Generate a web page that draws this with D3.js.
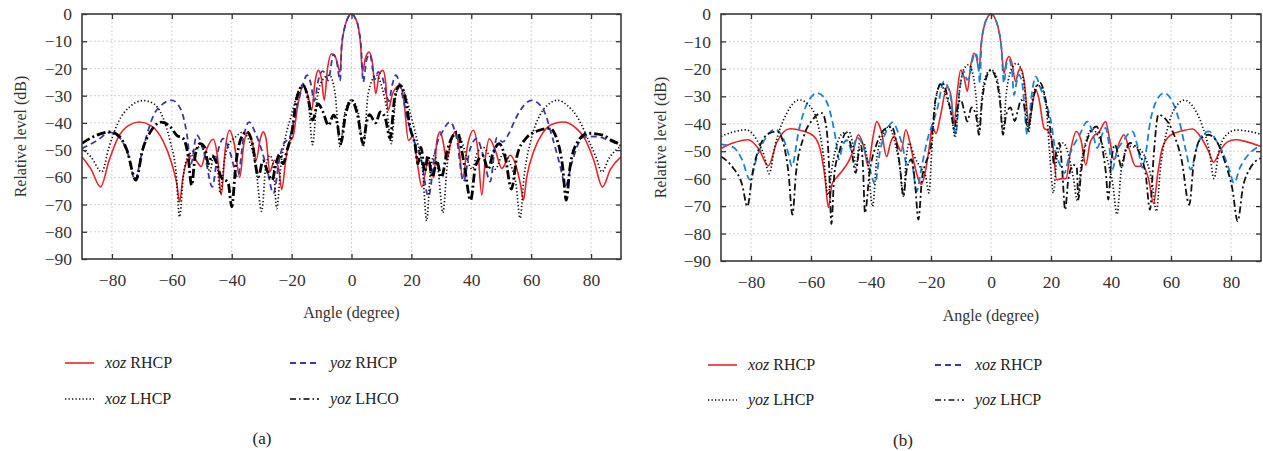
<!DOCTYPE html>
<html>
<head>
<meta charset="utf-8">
<script src="https://cdn.jsdelivr.net/npm/d3@7"></script>
<style>
    body { margin: 0; background: #fff; }
    svg text { font-family: "Liberation Serif", "DejaVu Serif", serif; }
</style>
</head>
<body>
<svg id="chart" width="1263" height="451"></svg>
<script>

// tick values shared by both panels
const xTicks = [-80, -60, -40, -20, 0, 20, 40, 60, 80];
const yTicks = [0, -10, -20, -30, -40, -50, -60, -70, -80, -90];

// ---- panel (a) : [angle (deg), level (dB)] ----
const aXozRhcp = [
    [-90,-52.5],[-87,-57],[-83.8,-63.5],[-81,-54],[-78,-45.5],[-74.5,-41],[-70.8,-39.7],[-67,-41],[-63,-46.5],
    [-60,-55],[-58.4,-62],[-57.4,-69],[-56.3,-60],[-54.5,-53],[-53,-52],[-51.5,-54.5],[-50.2,-56],[-48.5,-50],
    [-46.2,-46],[-44.8,-52],[-43.5,-66.5],[-42.2,-50],[-40.7,-42.7],[-39.2,-47.5],[-37.3,-60],[-36,-48],
    [-34.6,-43.3],[-33.2,-47],[-31.8,-53.5],[-30.5,-46],[-29.5,-43.3],[-28.5,-46],[-27.3,-58],[-25.7,-53.7],
    [-24.3,-57],[-23.3,-64.5],[-22,-54],[-21,-47.5],[-19.5,-45],[-18,-34],[-16.2,-26.5],[-14.5,-30],
    [-13.3,-35.4],[-12.2,-25],[-11.1,-20.7],[-10,-24],[-9.1,-31.7],[-8,-20],[-6.7,-14.6],[-5.3,-16],
    [-3.8,-21.3],[-3.3,-12],[-2.4,-5.5],[-1.3,-1.6],[0,0],[1.3,-1.6],[2.4,-5.5],[3.1,-12],[3.6,-21.3],[4.7,-16],
    [5.9,-14],[7,-18],[8.1,-29.3],[9.3,-22],[10.5,-20.7],[11.4,-25],[12.2,-35.4],[13.8,-29],[16.2,-26.2],
    [17.5,-32],[19,-46.4],[20.5,-45],[22,-55],[23.5,-63.5],[25.7,-53.7],[27.4,-60],[28.6,-46],[29.6,-43.3],
    [30.6,-47],[31.8,-53.7],[33.2,-47],[34.6,-43.3],[35.8,-48],[37.1,-60.4],[38.8,-48],[40.7,-42.7],
    [42.2,-50],[43.5,-66.5],[44.8,-52],[46,-45.8],[48,-50],[50.2,-56.7],[53,-51.9],[55,-56],[56.5,-63],
    [57.4,-68.4],[58.5,-60],[61,-50],[64,-43.5],[67,-40.5],[70.8,-39.7],[74.5,-41.5],[78,-46],[81,-54],
    [83.8,-63.5],[86.5,-57],[90,-52.5]
];
const aYozRhcp = [
    [-90,-49.4],[-85,-46.5],[-80.6,-43.5],[-77,-46],[-74.5,-52],[-72.3,-61],[-70,-51],[-66,-37],[-63,-33],
    [-60,-31.7],[-57,-35],[-55,-44],[-53.6,-55],[-51.7,-44.5],[-49,-52],[-46.5,-63.5],[-44.5,-50],[-42.8,-45.8],
    [-40.5,-51],[-38,-60],[-36,-45],[-34.2,-39.7],[-32,-44],[-30,-50],[-28,-58],[-26.1,-65.9],[-24,-53],
    [-22.8,-48],[-20.5,-45],[-19,-38],[-17,-29],[-14.8,-22.5],[-13.5,-26],[-12.5,-32],[-11,-24],[-9.7,-21],
    [-8.7,-22],[-7.8,-24.5],[-6,-14.8],[-5,-17],[-3.8,-24.5],[-3.3,-12],[-2.4,-5.5],[-1.3,-1.6],[0,0],[1.3,-1.6],
    [2.4,-5.5],[3.2,-12],[3.9,-25],[5,-17],[6.1,-14.8],[7.8,-24],[8.9,-21.3],[10.2,-23],[12.5,-32],[13.6,-26],
    [14.8,-22.5],[17,-30],[19,-40],[21.2,-47.5],[23,-52],[25.7,-67],[28,-50],[30.5,-43],[32.9,-39.7],
    [35,-45],[37.4,-61.6],[39.5,-50],[41.8,-45.8],[44,-52],[46.3,-61.6],[48.5,-45.5],[50.5,-47],[52.5,-44],
    [55,-38],[60.2,-31.7],[64,-35],[67,-45],[69.5,-55],[71.5,-63],[73.5,-55],[77.4,-45.2],[82,-45],
    [86,-46.5],[90,-48.5]
];
const aXozLhcp = [
    [-90,-49.5],[-87,-52.5],[-83.4,-58],[-81,-49],[-78,-40],[-74,-34],[-69.5,-31.8],[-66,-33],[-63,-38],
    [-60.5,-47],[-58.6,-58],[-57.4,-74.5],[-56.2,-60],[-54.5,-52],[-52.3,-50],[-50.2,-48.5],[-48.6,-53],
    [-47.3,-58],[-46,-52],[-44.8,-56],[-43.8,-66],[-42.5,-54],[-41,-48],[-39,-45.5],[-36.5,-43.5],[-34,-47],
    [-32,-56],[-30,-72.5],[-28.6,-56],[-27.2,-52],[-26,-57],[-25,-71.5],[-23.5,-55],[-22,-45],[-20,-37],
    [-18,-29],[-16.2,-26],[-14.5,-31],[-13,-48],[-11.5,-31],[-9.5,-24],[-7.4,-22.5],[-5.5,-29],[-3.8,-48.8],
    [-2.2,-36],[0,-31.5],[2.2,-36],[3.9,-48.8],[5.6,-29],[8.3,-22.5],[10.2,-27],[11.8,-35],[13.3,-47.6],
    [14.8,-30],[16.3,-26],[18,-30],[20,-38],[22,-47],[23.8,-58],[25.1,-76],[26.4,-57],[27.7,-52],[29,-58],
    [30.5,-73],[32,-55],[33.5,-46],[35.3,-44],[37.2,-48],[38.8,-54],[40.3,-57],[42,-51],[44,-49],[46,-52],
    [48,-57],[50.7,-51.3],[53,-55],[55,-63],[56.3,-75],[57.6,-60],[60,-46],[63,-37],[66,-33],[68.8,-31.7],
    [72,-33.5],[75.5,-38],[79,-46],[81.8,-53],[83.6,-58],[86,-53],[90,-48.5]
];
const aYozLhco = [
    [-90,-47.5],[-85,-44.5],[-80.6,-43.3],[-77.5,-45],[-75,-50],[-72,-61],[-69.8,-50],[-67,-43],[-63.4,-39.7],
    [-60.5,-41.5],[-58.4,-44.5],[-56,-46],[-54.6,-52],[-53.4,-62.9],[-52.2,-52],[-50.6,-47.6],[-49,-49],
    [-47.8,-55],[-46.5,-52],[-45,-55],[-43.5,-60],[-41.2,-62],[-40,-70.8],[-38.6,-55],[-37,-46],[-35,-43.3],
    [-33.2,-47],[-31.1,-59.8],[-29.6,-54],[-28,-58],[-26.5,-61],[-25.2,-55],[-24,-51.5],[-22.8,-55],
    [-21.5,-50],[-20,-44],[-18.3,-31],[-16.1,-26.2],[-14.3,-32],[-13,-39],[-11.2,-33],[-9.5,-36],[-7.7,-40.9],
    [-6,-37.2],[-4.8,-40],[-3.6,-47.6],[-2,-37],[0,-31.7],[2,-37],[3.9,-47.6],[5,-40],[6,-37],[8.1,-40],
    [9.6,-36],[11.2,-38],[12.9,-45.6],[14.4,-31],[16.2,-26.2],[18,-31],[19.6,-42],[21.2,-47.9],[22.2,-55],
    [23.2,-49],[24.5,-58],[25.5,-52],[27,-60],[28.5,-54],[30,-60],[32,-50],[35.3,-43.3],[37.6,-55],
    [39.8,-68.4],[41.4,-56],[43.8,-52],[45.6,-57],[47.3,-51],[49.3,-47.6],[51.4,-53],[53.4,-64.3],[55.3,-52],
    [58,-46],[62,-43],[66.2,-42],[68.6,-46],[70.5,-56],[71.7,-68.4],[73,-56],[75.5,-47],[79,-43.8],
    [84,-44.5],[87,-46.5],[90,-48]
];

// ---- panel (b) ----
const bXozRhcp = [
    [-90,-49],[-86,-47],[-81,-45.8],[-77.5,-49],[-74.2,-55.3],[-71.5,-47],[-67,-41.8],[-63,-42.5],[-59.2,-44.4],
    [-57,-49],[-55.3,-60],[-54.2,-70.5],[-53,-62],[-51.4,-59.5],[-49.5,-57],[-47.6,-54],[-46,-50],[-44.2,-44],
    [-42.5,-48],[-40.9,-55.5],[-39.5,-46],[-38.1,-39.2],[-36.5,-43],[-34.8,-52],[-33.5,-47],[-32.3,-44.5],
    [-31,-48],[-30,-50],[-28.4,-42.2],[-27,-47],[-25.5,-55],[-23.2,-62],[-22,-58],[-20.5,-48],[-19.6,-41],
    [-18.3,-43.5],[-17,-38],[-14.6,-26.4],[-13.3,-30],[-12.3,-39.8],[-11.2,-28],[-10.1,-20.4],[-9,-23],
    [-7.9,-28.2],[-6.8,-19],[-5.7,-14.3],[-4.8,-16],[-4,-20.4],[-3.3,-11],[-2.4,-5],[-1.3,-1.5],[0,0],[1.3,-1.5],
    [2.4,-5],[3.4,-11.5],[4.3,-21.6],[5.2,-17],[6,-15.5],[7,-18],[8.2,-24.6],[9.1,-21],[9.9,-19.8],[11,-24],
    [12.7,-40.4],[13.8,-33],[14.9,-27.6],[16,-31],[17.7,-41.6],[19,-42.5],[20.5,-47],[21.9,-60.4],[23.5,-60],
    [25,-60],[26.5,-50],[28.4,-42.8],[30,-46],[31.6,-55],[33,-47],[34.3,-44.4],[36,-43],[38.2,-39.2],
    [39.6,-46],[41,-53.1],[42.7,-47],[44.3,-44],[46,-49],[48.2,-55.5],[50.5,-55.5],[52.5,-60],[54.2,-69],
    [55.6,-58],[57.1,-48.8],[60,-44],[64,-42.5],[67.2,-41.9],[70,-45],[72.5,-50],[74.2,-54],[76.5,-49.5],
    [79,-46.5],[81.6,-45.8],[85,-46.5],[90,-48.3]
];
const bXozRhcpDash = [
    [-90,-47.5],[-86,-48.5],[-83,-53],[-80.3,-60.4],[-78,-52],[-75,-45],[-72,-42],[-69,-46],[-67.5,-51],
    [-66.4,-55.5],[-64,-42],[-61,-32],[-57.8,-28.8],[-55,-31.5],[-53,-38.5],[-51.7,-46],[-50.7,-53],
    [-49.5,-48],[-48,-46],[-46.3,-50],[-44.8,-45],[-43,-47],[-41.5,-52],[-40,-58],[-38.7,-62],[-37,-50],
    [-35,-43],[-32.8,-39.5],[-31,-43],[-29.5,-48],[-28,-55],[-26.6,-53],[-24.8,-64.6],[-23,-55],[-21,-45],
    [-19.5,-40],[-18,-35],[-15.7,-24.6],[-13.5,-30],[-11.8,-44],[-10.5,-28],[-9,-21],[-8,-24],[-7,-22],
    [-6,-16],[-5.1,-14.3],[-4.3,-18],[-3.7,-25.2],[-3.2,-11],[-2.4,-5],[-1.3,-1.5],[0,0],[1.3,-1.5],[2.4,-5],
    [3.4,-11.5],[4.3,-25.2],[5.2,-18],[6,-16.6],[7,-21],[7.7,-29.5],[8.5,-25],[9.3,-22.2],[10.5,-26],[12.1,-44],
    [13.5,-30],[14.9,-22.8],[16.5,-27],[18.5,-33],[19.9,-38.5],[21.5,-50],[23,-55],[24.5,-58],[26,-52],
    [27.5,-48],[29.3,-44.6],[32.1,-39.2],[33.8,-43],[35.4,-48.8],[37,-44],[38.2,-41.5],[39.4,-48],[40.4,-56.7],
    [42,-50],[43.8,-46.7],[47.1,-42.8],[48.8,-48],[50.5,-56],[51.7,-50],[52.8,-41],[55,-32],[57.7,-28.8],
    [60.5,-32],[63,-40],[65,-50],[66.6,-56.7],[68.5,-49],[70.5,-44],[72.7,-42.8],[75,-46],[77.5,-51],[79.5,-57],
    [81,-61.6],[83,-56],[86,-51],[90,-48]
];
const bYozLhcp = [
    [-90,-44.6],[-86,-43],[-81.8,-42.2],[-78,-46],[-75.5,-52],[-74,-58.2],[-72,-48],[-68,-36],[-64,-31.3],
    [-60,-34],[-57.5,-41],[-55.8,-52],[-54.4,-66],[-53,-56],[-51.5,-48],[-49.3,-43.4],[-47.3,-43],[-46,-48],
    [-45,-56],[-43.8,-47],[-42.5,-47],[-41,-55],[-39.5,-70.1],[-38,-52],[-36,-44],[-34,-41],[-32,-47],
    [-30.5,-55],[-29.2,-66.4],[-28.2,-52],[-27.3,-47],[-25.5,-52],[-23.5,-56],[-21.8,-59],[-20.7,-65.2],
    [-19.5,-45],[-18.5,-32],[-16.8,-25.5],[-15,-30],[-13,-38],[-12,-45],[-10.5,-28],[-9,-20],[-7.5,-18.5],
    [-6,-22],[-5,-30],[-4,-43],[-3,-30],[-1.5,-22],[0,-20.4],[1.5,-22],[3,-30],[4,-43],[5,-30],[6.5,-21],
    [8.5,-18],[10,-20],[11.5,-30],[12.5,-43],[14,-30],[15.5,-26],[17,-27],[18.5,-35],[19.5,-50],[20.8,-65.2],
    [22,-52],[24.1,-47],[26,-52],[27.5,-60],[28.8,-68.2],[30,-55],[31.5,-47],[33.7,-42],[36,-45],[38.5,-52],
    [40.6,-62],[42,-73],[43.5,-56],[46,-48.2],[48,-48.5],[49.8,-49.5],[52,-54],[53.8,-62],[55.1,-71.9],
    [56.5,-56],[59,-41],[61.5,-34],[64.5,-31.4],[67.5,-34],[70.5,-41],[72.8,-50],[74.3,-60],[76,-50],
    [78.5,-44],[81.8,-42.3],[86,-42.8],[90,-43.8]
];
const bYozLhcpDash = [
    [-90,-51.9],[-86,-56],[-83,-62],[-81.2,-70.1],[-79.5,-58],[-77,-48],[-74,-43.5],[-71.2,-42.8],[-69,-48],
    [-67.5,-58],[-66.2,-73.1],[-65,-58],[-62.5,-45],[-59.5,-38.5],[-56.3,-36.1],[-54.8,-42],[-54,-55],
    [-53.2,-76.5],[-52.2,-58],[-50.5,-50],[-48.4,-43.4],[-46.7,-48],[-45.1,-57.9],[-44,-50],[-43.3,-48],
    [-42.7,-55],[-42,-72.5],[-40.5,-58],[-38,-47],[-35.5,-42],[-33.1,-41],[-31.5,-47],[-30.3,-56],[-29.2,-66.4],
    [-28,-56],[-26.5,-53],[-25.3,-62],[-24.2,-74.9],[-23,-60],[-22,-55],[-21,-52],[-20,-48],[-18.5,-31],
    [-16.3,-25],[-14.5,-30],[-13,-38],[-12.3,-42],[-11,-33],[-10,-31.3],[-9,-35],[-7.9,-39.2],[-6.5,-34],
    [-5,-37],[-4,-44],[-3,-32],[-1.5,-23],[0,-20.4],[1.5,-23],[3,-32],[4,-44],[5,-37],[6.5,-34],[7.9,-39],
    [9,-35],[10,-31.3],[11,-33],[12.3,-42],[13.3,-36],[14.5,-29],[16.3,-25],[18,-30],[19.5,-40],[20.2,-45.8],
    [21,-55],[21.8,-50],[22.8,-47],[23.8,-58],[24.7,-71.3],[25.8,-60],[27.5,-55],[28.6,-56],[29.1,-67.6],
    [30,-58],[32,-46],[35.2,-41],[37.3,-50],[38.3,-58],[39.1,-67.6],[40,-55],[41.3,-47.6],[42.5,-52],
    [43.5,-56],[45,-49],[46.5,-47],[48,-48],[50,-52],[51.5,-58],[53,-71.3],[54.2,-52],[55.8,-36.7],
    [58,-38],[61,-44],[63.5,-53],[66.1,-69.5],[67.5,-55],[69.5,-46],[72.4,-44],[75,-46],[78,-54],[80.5,-64],
    [82.2,-75.5],[84,-63],[86.5,-56],[90,-52.5]
];

// line styles
const styles = {
    red:       {stroke: "#ec2327", width: 1.6, dash: null},
    navyDash:  {stroke: "#3a3aa6", width: 1.8, dash: "6,4"},
    dotted:    {stroke: "#111", width: 1.7, dash: "1.3,2.2"},
    dashDotA:  {stroke: "#000", width: 2.8, dash: "9,3,2,3"},
    blueDash:  {stroke: "#1c82d2", width: 1.8, dash: "7,4"},
    dashDotB:  {stroke: "#111", width: 1.8, dash: "7,3,2,3"}
};

const panels = [
    {
        key: "a", left: 82, right: 621, top: 14, bottom: 259, yLabelX: 20, xLabelY: 318,
        series: [
            {data: aXozRhcp, style: styles.red},
            {data: aYozRhcp, style: styles.navyDash},
            {data: aXozLhcp, style: styles.dotted},
            {data: aYozLhco, style: styles.dashDotA}
        ],
        legend: [
            {x: 65, y: 363, style: styles.red, plane: "xoz", pol: "RHCP"},
            {x: 290, y: 363, style: styles.navyDash, plane: "yoz", pol: "RHCP"},
            {x: 65, y: 399, style: styles.dotted, plane: "xoz", pol: "LHCP"},
            {x: 290, y: 399, style: {stroke: "#000", width: 1.6, dash: "6,3,1.5,3"}, plane: "yoz", pol: "LHCO"}
        ],
        caption: {x: 262, y: 444, text: "(a)"}
    },
    {
        key: "b", left: 721, right: 1261, top: 14, bottom: 261, yLabelX: 660, xLabelY: 321,
        series: [
            {data: bXozRhcp, style: styles.red},
            {data: bXozRhcpDash, style: styles.blueDash},
            {data: bYozLhcp, style: styles.dotted},
            {data: bYozLhcpDash, style: styles.dashDotB}
        ],
        legend: [
            {x: 708, y: 365, style: styles.red, plane: "xoz", pol: "RHCP"},
            {x: 935, y: 365, style: styles.navyDash, plane: "xoz", pol: "RHCP"},
            {x: 708, y: 400, style: styles.dotted, plane: "yoz", pol: "LHCP"},
            {x: 935, y: 400, style: {stroke: "#111", width: 1.6, dash: "6,3,1.5,3"}, plane: "yoz", pol: "LHCP"}
        ],
        caption: {x: 903, y: 446, text: "(b)"}
    }
];

const svg = d3.select("#chart");
const serif = "'Liberation Serif', 'DejaVu Serif', serif";
const fmt = d => d < 0 ? "\u2212" + Math.abs(d) : String(d);

panels.forEach(p => {
    let g = svg.append("g");

    let x = d3.scaleLinear().domain([-90, 90]).range([p.left, p.right]);
    let y = d3.scaleLinear().domain([-90, 0]).range([p.bottom, p.top]);

    // grid
    g.append("g").selectAll("line").data(xTicks).join("line")
        .attr("x1", d => x(d)).attr("x2", d => x(d))
        .attr("y1", p.top).attr("y2", p.bottom)
        .attr("stroke", "#d2d2d2").attr("stroke-dasharray", "2,2");
    g.append("g").selectAll("line").data(yTicks.slice(1, -1)).join("line")
        .attr("x1", p.left).attr("x2", p.right)
        .attr("y1", d => y(d)).attr("y2", d => y(d))
        .attr("stroke", "#d2d2d2").attr("stroke-dasharray", "2,2");

    // curves
    g.append("clipPath").attr("id", "clip-" + p.key)
        .append("rect").attr("x", p.left).attr("y", p.top - 2)
        .attr("width", p.right - p.left).attr("height", p.bottom - p.top + 2);

    let line = d3.line()
        .x(d => x(d[0])).y(d => y(d[1]))
        .curve(d3.curveMonotoneX);

    g.append("g").attr("clip-path", "url(#clip-" + p.key + ")")
        .selectAll("path").data(p.series).join("path")
        .attr("d", s => line(s.data))
        .attr("fill", "none")
        .attr("stroke", s => s.style.stroke)
        .attr("stroke-width", s => s.style.width)
        .attr("stroke-dasharray", s => s.style.dash)
        .attr("stroke-linejoin", "round");

    // axes, ticks pointing inwards
    g.append("g").attr("transform", "translate(0," + p.bottom + ")")
        .call(d3.axisBottom(x).tickValues(xTicks).tickFormat(fmt).tickSizeInner(-5).tickSizeOuter(0).tickPadding(15));
    g.append("g").attr("transform", "translate(" + p.left + ",0)")
        .call(d3.axisLeft(y).tickValues(yTicks).tickFormat(fmt).tickSizeInner(-5).tickSizeOuter(0).tickPadding(10));
    g.append("g").attr("transform", "translate(0," + p.top + ")")
        .call(d3.axisTop(x).tickValues(xTicks).tickFormat("").tickSizeInner(-5).tickSizeOuter(0));
    g.append("g").attr("transform", "translate(" + p.right + ",0)")
        .call(d3.axisRight(y).tickValues(yTicks).tickFormat("").tickSizeInner(-5).tickSizeOuter(0));

    g.selectAll(".domain").remove();
    g.selectAll(".tick line").attr("stroke", "#333").attr("stroke-width", 1.3);
    g.selectAll(".tick text")
        .style("font-family", serif)
        .style("font-size", "17.5px").attr("fill", "#333");

    // frame
    g.append("rect")
        .attr("x", p.left).attr("y", p.top)
        .attr("width", p.right - p.left).attr("height", p.bottom - p.top)
        .attr("fill", "none").attr("stroke", "#3a3a3a").attr("stroke-width", 1.6);

    // axis titles
    g.append("text")
        .attr("transform", "translate(" + p.yLabelX + "," + ((p.top + p.bottom) / 2) + ") rotate(-90)")
        .attr("text-anchor", "middle").attr("dominant-baseline", "central")
        .style("font-family", serif).style("font-size", "16px").attr("fill", "#333")
        .text("Relative level (dB)");
    g.append("text")
        .attr("x", (p.left + p.right) / 2).attr("y", p.xLabelY)
        .attr("text-anchor", "middle")
        .style("font-family", serif).style("font-size", "16px").attr("fill", "#333")
        .text("Angle (degree)");

    // legend
    let lg = g.append("g").selectAll("g").data(p.legend).join("g");
    lg.append("line")
        .attr("x1", d => d.x).attr("x2", d => d.x + 29)
        .attr("y1", d => d.y).attr("y2", d => d.y)
        .attr("stroke", d => d.style.stroke)
        .attr("stroke-width", d => Math.min(d.style.width, 1.8))
        .attr("stroke-dasharray", d => d.style.dash);
    let lt = lg.append("text")
        .attr("x", d => d.x + 40).attr("y", d => d.y + 5)
        .style("font-family", serif).style("font-size", "16px").attr("fill", "#222");
    lt.append("tspan").attr("font-style", "italic").text(d => d.plane);
    lt.append("tspan").text(d => " " + d.pol);

    g.append("text")
        .attr("x", p.caption.x).attr("y", p.caption.y)
        .attr("text-anchor", "middle")
        .style("font-family", serif).style("font-size", "17px").attr("fill", "#222")
        .text(p.caption.text);
});

</script>
</body>
</html>
